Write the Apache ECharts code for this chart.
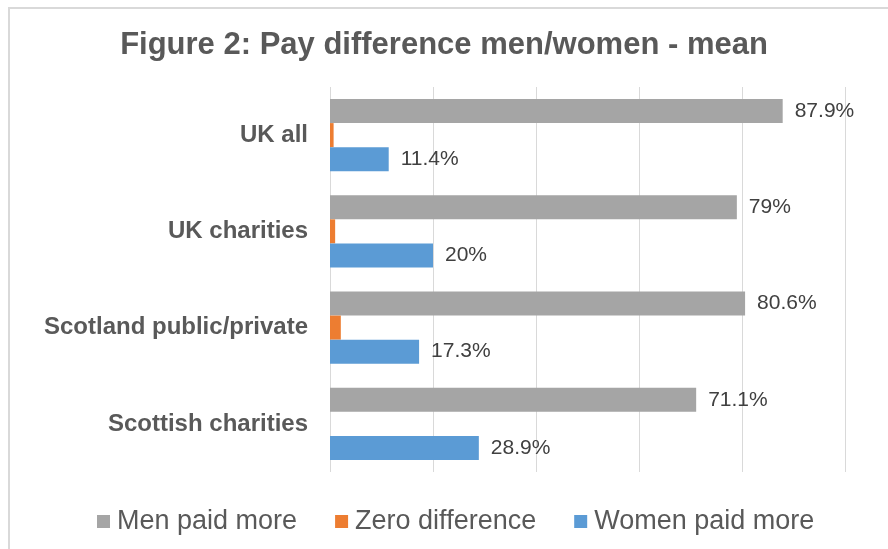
<!DOCTYPE html>
<html>
<head>
<meta charset="utf-8">
<script src="https://cdn.jsdelivr.net/npm/echarts@6/dist/echarts.min.js"></script>
<style>
  html, body { margin: 0; padding: 0; background: #fff; }
  #chart { width: 888px; height: 549px; }
</style>
</head>
<body>
<div id="chart"></div>
<script>
// data
var categories = ['UK all', 'UK charities', 'Scotland public/private', 'Scottish charities'];
var menPaidMore = [87.9, 79, 80.6, 71.1];
var zeroDifference = [0.7, 1, 2.1, 0];
var womenPaidMore = [11.4, 20, 17.3, 28.9];
var seriesNames = ['Men paid more', 'Zero difference', 'Women paid more'];
var colors = ['#a5a5a5', '#ed7d31', '#5b9bd5'];

var chart = echarts.init(document.getElementById('chart'));

function barSeries(name, data, showLabel) {
    return {
        name: name,
        type: 'bar',
        data: data,
        barGap: '0%',
        barCategoryGap: '25%',
        label: {
            show: showLabel,
            position: 'right',
            distance: 12,
            fontFamily: 'Liberation Sans, Arial',
            fontSize: 21,
            color: '#404040',
            formatter: function(p) { return p.value + '%'; }
        }
    };
}

var option = {
    animation: false,
    color: colors,
    title: {
        text: 'Figure 2: Pay difference men/women - mean',
        left: 'center',
        top: 25,
        textStyle: {
            fontFamily: 'Liberation Sans, Arial',
            fontSize: 31,
            fontWeight: 'bold',
            color: '#595959'
        }
    },
    legend: {
        bottom: 9,
        left: 92,
        icon: 'rect',
        itemWidth: 13,
        itemHeight: 13,
        itemGap: 38,
        textStyle: {
            fontFamily: 'Liberation Sans, Arial',
            fontSize: 27,
            color: '#595959',
            padding: [0, 0, 0, 2]
        },
        data: seriesNames
    },
    grid: { left: 330, right: 43, top: 87, bottom: 77 },
    xAxis: {
        type: 'value',
        min: 0,
        max: 100,
        interval: 20,
        axisLabel: { show: false },
        axisLine: { show: false },
        axisTick: { show: false },
        splitLine: { lineStyle: { color: '#d9d9d9', width: 1 } }
    },
    yAxis: {
        type: 'category',
        inverse: true,
        data: categories,
        axisLine: { show: false },
        axisTick: { show: false },
        axisLabel: {
            margin: 22,
            fontFamily: 'Liberation Sans, Arial',
            fontSize: 24,
            fontWeight: 'bold',
            color: '#595959'
        }
    },
    graphic: [{
        type: 'rect',
        shape: { x: 9, y: 8, width: 900, height: 560 },
        style: { fill: 'none', stroke: '#d9d9d9', lineWidth: 2 },
        silent: true
    }],
    series: [
        barSeries(seriesNames[0], menPaidMore, true),
        barSeries(seriesNames[1], zeroDifference, false),
        barSeries(seriesNames[2], womenPaidMore, true)
    ]
};

chart.setOption(option);
</script>
</body>
</html>
